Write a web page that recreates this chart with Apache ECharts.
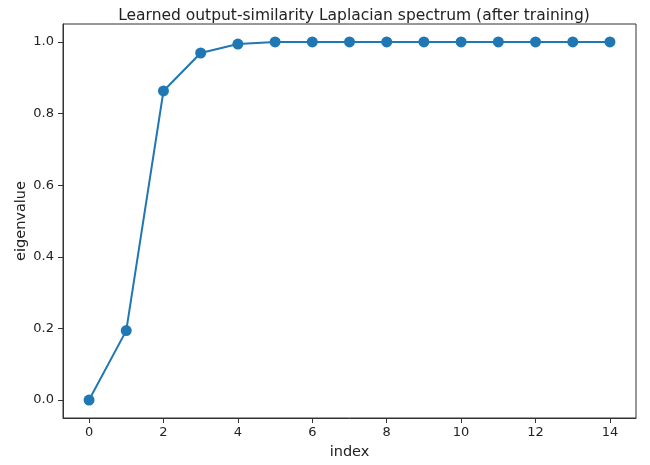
<!DOCTYPE html>
<html>
<head>
<meta charset="utf-8">
<script src="https://cdn.jsdelivr.net/npm/echarts@6/dist/echarts.min.js"></script>
<style>html,body{margin:0;padding:0;background:#fff;}#c{width:650px;height:465px;}</style>
</head>
<body>
<div id="c"></div>
<script>
var indices = [0,1,2,3,4,5,6,7,8,9,10,11,12,13,14];
var eigenvalues = [0.0,0.194,0.863,0.969,0.994,1.0,1.0,1.0,1.0,1.0,1.0,1.0,1.0,1.0,1.0];
var xTicks = [0,2,4,6,8,10,12,14];
var yTicks = [0,0.2,0.4,0.6,0.8,1.0];
var titleText = 'Learned output-similarity Laplacian spectrum (after training)';

var chart = echarts.init(document.getElementById('c'), null, {renderer:'canvas'});
var font = 'DejaVu Sans';
var axisLineStyle = {color:'#333', width:1};
chart.setOption({
  animation:false,
  backgroundColor:'#fff',
  title:{text:titleText, left:349, top:3, textAlign:'center',
    textStyle:{fontFamily:font, fontSize:15.5, fontWeight:'normal', color:'#222'}},
  grid:{left:63, right:14, top:24, bottom:45, show:true, borderColor:'#333', borderWidth:1},
  xAxis:{type:'value', min:-0.7, max:14.7,
    name:'index', nameLocation:'middle', nameGap:27, nameMoveOverlap:false,
    nameTextStyle:{fontFamily:font, fontSize:14.5, color:'#222'},
    axisLine:{show:true, onZero:false, lineStyle:axisLineStyle},
    axisTick:{show:true, length:5, lineStyle:axisLineStyle, customValues:xTicks},
    axisLabel:{fontFamily:font, fontSize:13, color:'#222', margin:8, customValues:xTicks,
      formatter:function(v){return String(v);}},
    splitLine:{show:false}},
  yAxis:{type:'value', min:-0.05, max:1.05,
    name:'eigenvalue', nameLocation:'middle', nameGap:34, nameRotate:90, nameMoveOverlap:false,
    nameTextStyle:{fontFamily:font, fontSize:14.5, color:'#222'},
    axisLine:{show:true, onZero:false, lineStyle:axisLineStyle},
    axisTick:{show:true, length:5, lineStyle:axisLineStyle, customValues:yTicks},
    axisLabel:{fontFamily:font, fontSize:13, color:'#222', margin:9, customValues:yTicks,
      formatter:function(v){return v.toFixed(1);}},
    splitLine:{show:false}},
  series:[{type:'line', data:indices.map(function(x,i){return [x, eigenvalues[i]];}),
    symbol:'circle', symbolSize:11, showAllSymbol:true,
    lineStyle:{color:'#1f77b4', width:2},
    itemStyle:{color:'#1f77b4'}}]
});
</script>
</body>
</html>
